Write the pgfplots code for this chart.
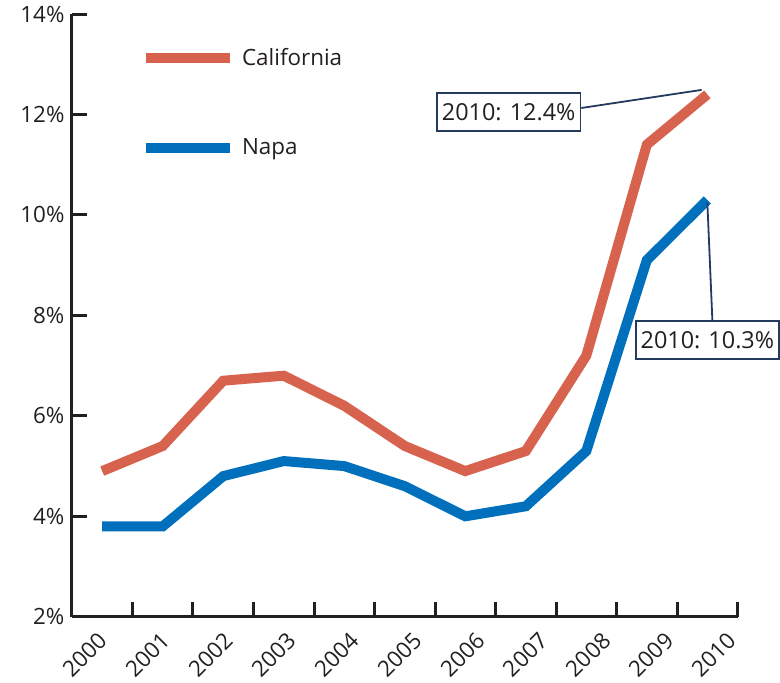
\documentclass[border=0pt]{standalone}
\usepackage{fontspec}
\setmainfont{Open Sans}
\usepackage{pgfplots}
\pgfplotsset{compat=1.18}
\definecolor{calred}{HTML}{D7634F}
\definecolor{napablue}{HTML}{0070BD}
\definecolor{axgray}{HTML}{231F20}
\definecolor{boxnavy}{HTML}{243A5E}
\begin{document}
\begin{tikzpicture}
\begin{axis}[
  scale only axis, width=666bp, height=603bp,
  xmin=-0.5, xmax=10.5, ymin=2, ymax=14,
  axis lines*=left,
  clip=false,
  axis line style={line width=3bp, color=axgray},
  tick align=inside,
  major tick length=15bp,
  tick style={line width=3bp, color=axgray},
  xtick={0.5,1.5,...,10.5},
  xticklabels={},
  extra x ticks={0.01,1.05,2.09,3.13,4.17,5.21,6.25,7.29,8.33,9.37,10.41},
  extra x tick labels={2000,2001,2002,2003,2004,2005,2006,2007,2008,2009,2010},
  extra x tick style={major tick length=0pt, tick style={draw=none},
     xticklabel style={rotate=45, anchor=north east, inner sep=0bp, yshift=-6bp, xshift=-14bp}},
  ytick={2,4,...,14},
  yticklabel={\pgfmathprintnumber{\tick}\%},
  /pgf/number format/assume math mode=true,
  ticklabel style={font=\fontsize{22.5}{27}\selectfont, text=axgray},
  yticklabel style={xshift=-4bp},
  legend style={draw=none, fill=none, at={(axis cs:0.64,13.36)}, anchor=north west,
     font=\fontsize{22.5}{27}\selectfont, row sep=68bp, column sep=5bp, inner sep=0pt,
     text=axgray},
  legend cell align=left,
  legend image code/.code={\draw[#1] (0bp,0bp) -- (84bp,0bp);},
]
\addplot[calred, line width=10bp] coordinates {(0,4.9)(1,5.4)(2,6.7)(3,6.8)(4,6.2)(5,5.4)(6,4.9)(7,5.3)(8,7.2)(9,11.4)(10,12.4)};
\addlegendentry{California}
\addplot[napablue, line width=10bp] coordinates {(0,3.8)(1,3.8)(2,4.8)(3,5.1)(4,5.0)(5,4.6)(6,4.0)(7,4.2)(8,5.3)(9,9.1)(10,10.3)};
\addlegendentry{Napa}
\node[draw=boxnavy, line width=1.8bp, fill=white, inner xsep=5bp, inner ysep=0bp, minimum height=38bp,
  font=\fontsize{23.5}{27}\selectfont, text=axgray] (b1) at (axis cs:6.717,12.05) {2010: 12.4\%};
\draw[boxnavy, line width=1.8bp] ([yshift=4bp]b1.east) -- (axis cs:9.905,12.49);
\node[draw=boxnavy, line width=1.8bp, fill=white, inner xsep=5bp, inner ysep=0bp, minimum height=38bp,
  font=\fontsize{23.5}{27}\selectfont, text=axgray] (b2) at (axis cs:10.0,7.51) {2010: 10.3\%};
\draw[boxnavy, line width=1.8bp] ([xshift=5bp]b2.north) -- (axis cs:10.0,10.24);
\path (axis cs:-1.689,14.28) rectangle (axis cs:11.193,0.687);
\end{axis}
\end{tikzpicture}
\end{document}
